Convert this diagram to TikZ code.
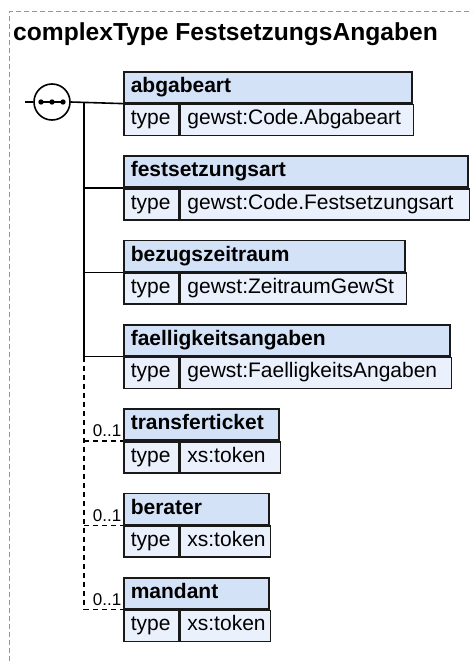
\documentclass[tikz,border=0pt]{standalone}
\usepackage{fontspec}
\setmainfont{Liberation Sans}
\definecolor{hdrfill}{RGB}{212,226,248}
\definecolor{rowfill}{RGB}{234,240,252}
\definecolor{boxc}{RGB}{25,25,25}
\definecolor{framec}{RGB}{150,150,150}
\tikzset{
  cellbase/.style={draw=boxc, line width=1.6pt, anchor=north west, minimum height=31pt,
    inner xsep=7pt, inner ysep=0pt, text height=15pt, text depth=5pt, align=left},
  hdr/.style={cellbase, fill=hdrfill, font=\bfseries\fontsize{21}{21}\selectfont},
  rowcell/.style={cellbase, fill=rowfill, font=\fontsize{21}{21}\selectfont},
  conn/.style={line width=1.6pt, draw=black},
  optconn/.style={conn, dash pattern=on 5pt off 4pt},
  occ/.style={anchor=base east, inner sep=0pt, font=\fontsize{17}{17}\selectfont},
}
\newcommand\myelem[5]{%
  \pgfmathsetmacro\hw{#3-137}%
  \pgfmathsetmacro\vw{#3-178-14}%
  \node[hdr, text width=\hw pt] (#1) at (123,#2) {#4};
  \node[rowcell, text width=41pt] (#1t) at (#1.south west) {type};
  \node[rowcell, text width=\vw pt] (#1v) at (#1t.north east) {#5};
}
\begin{document}
\begin{tikzpicture}[x=1pt,y=-1pt]
\useasboundingbox (0,0) rectangle (472,661);
% frame
\draw[framec, line width=1pt, dash pattern=on 5pt off 3pt] (9,661) -- (9,12) -- (472,12);
% title
\node[anchor=base west, inner sep=0pt, font=\bfseries\fontsize{24.6}{25}\selectfont] (title) at (13,40.5) {complexType FestsetzungsAngaben};
% elements
\myelem{e1}{71}{411}{abgabeart}{gewst:Code.Abgabeart}
\myelem{e2}{155.3}{467}{festsetzungsart}{gewst:Code.Festsetzungsart}
\myelem{e3}{239.7}{404}{bezugszeitraum}{gewst:ZeitraumGewSt}
\myelem{e4}{324}{449}{faelligkeitsangaben}{gewst:FaelligkeitsAngaben}
\myelem{e5}{408.3}{278}{transferticket}{xs:token}
\myelem{e6}{492.7}{268}{berater}{xs:token}
\myelem{e7}{577}{268}{mandant}{xs:token}
% sequence symbol
\node[circle, draw=black, line width=1.6pt, fill=white, minimum size=36pt, inner sep=0pt] (seq) at (52,102) {};
\coordinate (inl) at (25,102);
\coordinate (trunk) at (84,102);
\draw[line width=1.4pt] ([xshift=-11pt]seq.center) -- ([xshift=11pt]seq.center);
\fill ([xshift=-11pt]seq.center) circle (2.7pt);
\fill (seq.center) circle (2.7pt);
\fill ([xshift=11pt]seq.center) circle (2.7pt);
\draw[conn] (inl) -- (seq.west);
\draw[conn] (seq.east) -- (e1.south west);
\draw[conn] (trunk) -- (trunk |- e4.south west);
\draw[conn] (trunk |- e2.south west) -- (e2.south west);
\draw[conn] (trunk |- e3.south west) -- (e3.south west);
\draw[conn] (trunk |- e4.south west) -- (e4.south west);
\draw[optconn] (trunk |- e4.south west) -- (trunk |- e7.south west);
\draw[optconn] (trunk |- e5.south west) -- (e5.south west);
\draw[optconn] (trunk |- e6.south west) -- (e6.south west);
\draw[optconn] (trunk |- e7.south west) -- (e7.south west);
% occurrence labels
\node[occ] (o5) at ([xshift=-1.5pt,yshift=4pt]e5.south west) {0..1};
\node[occ] (o6) at ([xshift=-1.5pt,yshift=4pt]e6.south west) {0..1};
\node[occ] (o7) at ([xshift=-1.5pt,yshift=4pt]e7.south west) {0..1};
\end{tikzpicture}
\end{document}
